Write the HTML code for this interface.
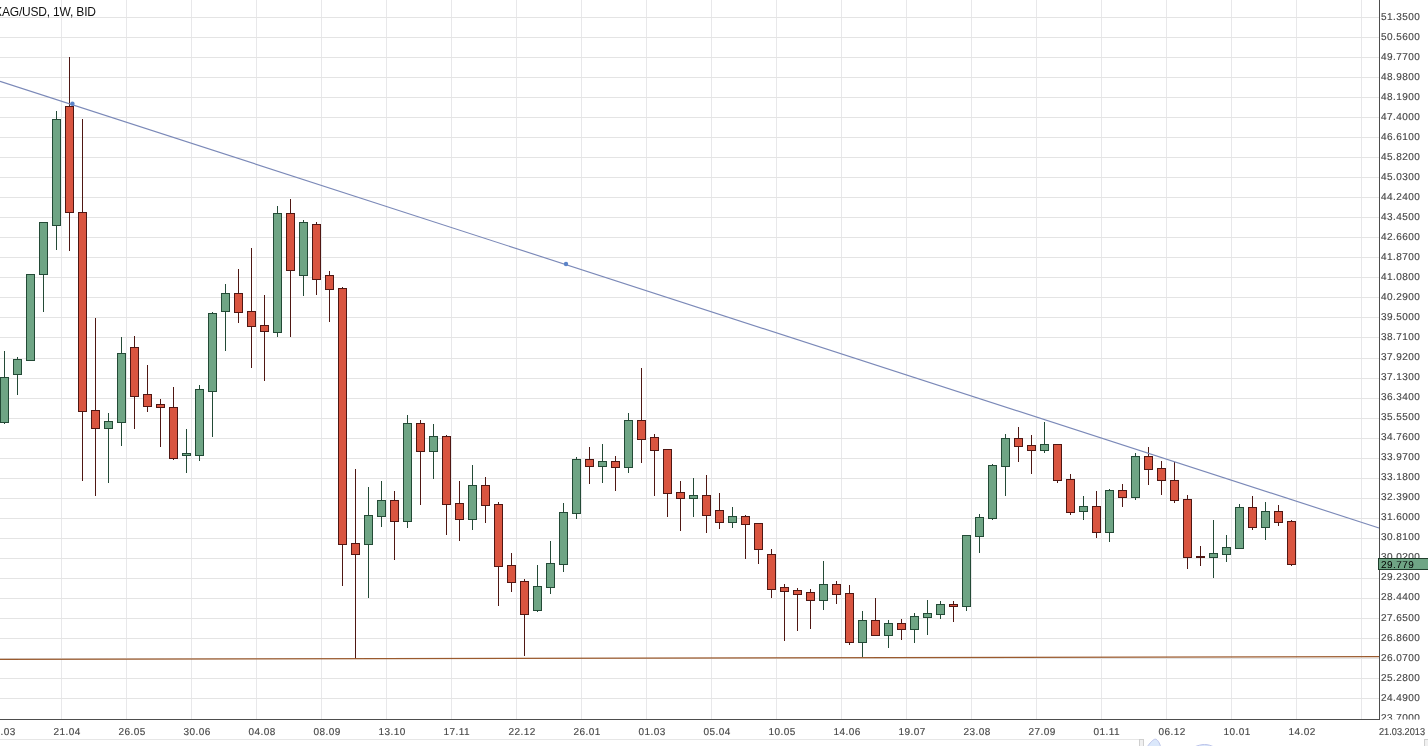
<!DOCTYPE html>
<html lang="en"><head><meta charset="utf-8"><title>XAG/USD, 1W, BID</title>
<style>html,body{margin:0;padding:0;background:#fff;overflow:hidden}svg{display:block}text{font-family:"Liberation Sans",Arial,Helvetica,sans-serif}.yl{font-size:10px;fill:#484848;stroke:#484848;stroke-width:0.15px;letter-spacing:0.44px;text-rendering:geometricPrecision}.xl{font-size:10px;fill:#484848;stroke:#484848;stroke-width:0.15px;letter-spacing:0.44px;text-rendering:geometricPrecision}.tt{font-size:12px;fill:#111}</style></head><body>
<svg width="1428" height="746" viewBox="0 0 1428 746">
<rect width="1428" height="746" fill="#fff"/>
<g stroke="#e4e4e4" stroke-width="1" shape-rendering="crispEdges">
<line x1="61.5" y1="0" x2="61.5" y2="719" stroke="#e8e8ea"/>
<line x1="126.5" y1="0" x2="126.5" y2="719" stroke="#e8e8ea"/>
<line x1="191.5" y1="0" x2="191.5" y2="719" stroke="#e8e8ea"/>
<line x1="256.5" y1="0" x2="256.5" y2="719" stroke="#e8e8ea"/>
<line x1="321.5" y1="0" x2="321.5" y2="719" stroke="#e8e8ea"/>
<line x1="386.5" y1="0" x2="386.5" y2="719" stroke="#e8e8ea"/>
<line x1="451.5" y1="0" x2="451.5" y2="719" stroke="#e8e8ea"/>
<line x1="516.5" y1="0" x2="516.5" y2="719" stroke="#e8e8ea"/>
<line x1="581.5" y1="0" x2="581.5" y2="719" stroke="#e8e8ea"/>
<line x1="646.5" y1="0" x2="646.5" y2="719" stroke="#e8e8ea"/>
<line x1="711.5" y1="0" x2="711.5" y2="719" stroke="#e8e8ea"/>
<line x1="776.5" y1="0" x2="776.5" y2="719" stroke="#e8e8ea"/>
<line x1="841.5" y1="0" x2="841.5" y2="719" stroke="#e8e8ea"/>
<line x1="906.5" y1="0" x2="906.5" y2="719" stroke="#e8e8ea"/>
<line x1="971.5" y1="0" x2="971.5" y2="719" stroke="#e8e8ea"/>
<line x1="1036.5" y1="0" x2="1036.5" y2="719" stroke="#e8e8ea"/>
<line x1="1101.5" y1="0" x2="1101.5" y2="719" stroke="#e8e8ea"/>
<line x1="1166.5" y1="0" x2="1166.5" y2="719" stroke="#e8e8ea"/>
<line x1="1231.5" y1="0" x2="1231.5" y2="719" stroke="#e8e8ea"/>
<line x1="1296.5" y1="0" x2="1296.5" y2="719" stroke="#e8e8ea"/>
<line x1="1361.5" y1="0" x2="1361.5" y2="719" stroke="#e8e8ea"/>
<line x1="0" y1="17.5" x2="1379" y2="17.5"/>
<line x1="0" y1="37.5" x2="1379" y2="37.5"/>
<line x1="0" y1="57.5" x2="1379" y2="57.5"/>
<line x1="0" y1="77.5" x2="1379" y2="77.5"/>
<line x1="0" y1="97.5" x2="1379" y2="97.5"/>
<line x1="0" y1="117.5" x2="1379" y2="117.5"/>
<line x1="0" y1="137.5" x2="1379" y2="137.5"/>
<line x1="0" y1="157.5" x2="1379" y2="157.5"/>
<line x1="0" y1="177.5" x2="1379" y2="177.5"/>
<line x1="0" y1="197.5" x2="1379" y2="197.5"/>
<line x1="0" y1="217.5" x2="1379" y2="217.5"/>
<line x1="0" y1="237.5" x2="1379" y2="237.5"/>
<line x1="0" y1="257.5" x2="1379" y2="257.5"/>
<line x1="0" y1="277.5" x2="1379" y2="277.5"/>
<line x1="0" y1="297.5" x2="1379" y2="297.5"/>
<line x1="0" y1="317.5" x2="1379" y2="317.5"/>
<line x1="0" y1="337.5" x2="1379" y2="337.5"/>
<line x1="0" y1="358.5" x2="1379" y2="358.5"/>
<line x1="0" y1="378.5" x2="1379" y2="378.5"/>
<line x1="0" y1="398.5" x2="1379" y2="398.5"/>
<line x1="0" y1="418.5" x2="1379" y2="418.5"/>
<line x1="0" y1="438.5" x2="1379" y2="438.5"/>
<line x1="0" y1="458.5" x2="1379" y2="458.5"/>
<line x1="0" y1="478.5" x2="1379" y2="478.5"/>
<line x1="0" y1="498.5" x2="1379" y2="498.5"/>
<line x1="0" y1="518.5" x2="1379" y2="518.5"/>
<line x1="0" y1="538.5" x2="1379" y2="538.5"/>
<line x1="0" y1="558.5" x2="1379" y2="558.5"/>
<line x1="0" y1="578.5" x2="1379" y2="578.5"/>
<line x1="0" y1="598.5" x2="1379" y2="598.5"/>
<line x1="0" y1="618.5" x2="1379" y2="618.5"/>
<line x1="0" y1="638.5" x2="1379" y2="638.5"/>
<line x1="0" y1="658.5" x2="1379" y2="658.5"/>
<line x1="0" y1="678.5" x2="1379" y2="678.5"/>
<line x1="0" y1="698.5" x2="1379" y2="698.5"/>
</g>
<text class="tt" x="-5.9" y="16" textLength="101.9" lengthAdjust="spacing">XAG/USD, 1W, BID</text>
<g shape-rendering="crispEdges" stroke-width="1">
<line x1="4.5" y1="351" x2="4.5" y2="424" stroke="#234a36"/>
<rect x="0.5" y="377.5" width="8" height="45" fill="#6fa585" stroke="#234a36"/>
<line x1="17.5" y1="357" x2="17.5" y2="395" stroke="#234a36"/>
<rect x="13.5" y="359.5" width="8" height="15" fill="#6fa585" stroke="#234a36"/>
<line x1="30.5" y1="274" x2="30.5" y2="361" stroke="#234a36"/>
<rect x="26.5" y="274.5" width="8" height="86" fill="#6fa585" stroke="#234a36"/>
<line x1="43.5" y1="222" x2="43.5" y2="312" stroke="#234a36"/>
<rect x="39.5" y="222.5" width="8" height="52" fill="#6fa585" stroke="#234a36"/>
<line x1="56.5" y1="111" x2="56.5" y2="250" stroke="#234a36"/>
<rect x="52.5" y="119.5" width="8" height="106" fill="#6fa585" stroke="#234a36"/>
<line x1="69.5" y1="57" x2="69.5" y2="251" stroke="#4f1713"/>
<rect x="65.5" y="106.5" width="8" height="106" fill="#d95540" stroke="#4f1713"/>
<line x1="82.5" y1="119" x2="82.5" y2="481" stroke="#4f1713"/>
<rect x="78.5" y="212.5" width="8" height="199" fill="#d95540" stroke="#4f1713"/>
<line x1="95.5" y1="318" x2="95.5" y2="496" stroke="#4f1713"/>
<rect x="91.5" y="410.5" width="8" height="18" fill="#d95540" stroke="#4f1713"/>
<line x1="108.5" y1="413" x2="108.5" y2="483" stroke="#234a36"/>
<rect x="104.5" y="421.5" width="8" height="7" fill="#6fa585" stroke="#234a36"/>
<line x1="121.5" y1="337" x2="121.5" y2="446" stroke="#234a36"/>
<rect x="117.5" y="353.5" width="8" height="69" fill="#6fa585" stroke="#234a36"/>
<line x1="134.5" y1="336" x2="134.5" y2="429" stroke="#4f1713"/>
<rect x="130.5" y="347.5" width="8" height="49" fill="#d95540" stroke="#4f1713"/>
<line x1="147.5" y1="365" x2="147.5" y2="412" stroke="#4f1713"/>
<rect x="143.5" y="394.5" width="8" height="12" fill="#d95540" stroke="#4f1713"/>
<line x1="160.5" y1="399" x2="160.5" y2="447" stroke="#4f1713"/>
<rect x="156.5" y="404.5" width="8" height="3" fill="#d95540" stroke="#4f1713"/>
<line x1="173.5" y1="387" x2="173.5" y2="460" stroke="#4f1713"/>
<rect x="169.5" y="407.5" width="8" height="51" fill="#d95540" stroke="#4f1713"/>
<line x1="186.5" y1="429" x2="186.5" y2="473" stroke="#234a36"/>
<rect x="182.5" y="453.5" width="8" height="2" fill="#6fa585" stroke="#234a36"/>
<line x1="199.5" y1="385" x2="199.5" y2="461" stroke="#234a36"/>
<rect x="195.5" y="389.5" width="8" height="66" fill="#6fa585" stroke="#234a36"/>
<line x1="212.5" y1="312" x2="212.5" y2="437" stroke="#234a36"/>
<rect x="208.5" y="313.5" width="8" height="78" fill="#6fa585" stroke="#234a36"/>
<line x1="225.5" y1="284" x2="225.5" y2="351" stroke="#234a36"/>
<rect x="221.5" y="293.5" width="8" height="18" fill="#6fa585" stroke="#234a36"/>
<line x1="238.5" y1="269" x2="238.5" y2="323" stroke="#4f1713"/>
<rect x="234.5" y="293.5" width="8" height="19" fill="#d95540" stroke="#4f1713"/>
<line x1="251.5" y1="248" x2="251.5" y2="368" stroke="#4f1713"/>
<rect x="247.5" y="311.5" width="8" height="15" fill="#d95540" stroke="#4f1713"/>
<line x1="264.5" y1="295" x2="264.5" y2="381" stroke="#4f1713"/>
<rect x="260.5" y="325.5" width="8" height="6" fill="#d95540" stroke="#4f1713"/>
<line x1="277.5" y1="206" x2="277.5" y2="337" stroke="#234a36"/>
<rect x="273.5" y="213.5" width="8" height="119" fill="#6fa585" stroke="#234a36"/>
<line x1="290.5" y1="199" x2="290.5" y2="337" stroke="#4f1713"/>
<rect x="286.5" y="213.5" width="8" height="57" fill="#d95540" stroke="#4f1713"/>
<line x1="303.5" y1="220" x2="303.5" y2="296" stroke="#234a36"/>
<rect x="299.5" y="222.5" width="8" height="53" fill="#6fa585" stroke="#234a36"/>
<line x1="316.5" y1="222" x2="316.5" y2="295" stroke="#4f1713"/>
<rect x="312.5" y="224.5" width="8" height="55" fill="#d95540" stroke="#4f1713"/>
<line x1="329.5" y1="271" x2="329.5" y2="322" stroke="#4f1713"/>
<rect x="325.5" y="275.5" width="8" height="14" fill="#d95540" stroke="#4f1713"/>
<line x1="342.5" y1="287" x2="342.5" y2="586" stroke="#4f1713"/>
<rect x="338.5" y="288.5" width="8" height="256" fill="#d95540" stroke="#4f1713"/>
<line x1="355.5" y1="469" x2="355.5" y2="659" stroke="#4f1713"/>
<rect x="351.5" y="543.5" width="8" height="11" fill="#d95540" stroke="#4f1713"/>
<line x1="368.5" y1="487" x2="368.5" y2="598" stroke="#234a36"/>
<rect x="364.5" y="515.5" width="8" height="29" fill="#6fa585" stroke="#234a36"/>
<line x1="381.5" y1="481" x2="381.5" y2="527" stroke="#234a36"/>
<rect x="377.5" y="500.5" width="8" height="16" fill="#6fa585" stroke="#234a36"/>
<line x1="394.5" y1="491" x2="394.5" y2="560" stroke="#4f1713"/>
<rect x="390.5" y="500.5" width="8" height="21" fill="#d95540" stroke="#4f1713"/>
<line x1="407.5" y1="415" x2="407.5" y2="528" stroke="#234a36"/>
<rect x="403.5" y="423.5" width="8" height="98" fill="#6fa585" stroke="#234a36"/>
<line x1="420.5" y1="420" x2="420.5" y2="505" stroke="#4f1713"/>
<rect x="416.5" y="423.5" width="8" height="28" fill="#d95540" stroke="#4f1713"/>
<line x1="433.5" y1="424" x2="433.5" y2="479" stroke="#234a36"/>
<rect x="429.5" y="436.5" width="8" height="15" fill="#6fa585" stroke="#234a36"/>
<line x1="446.5" y1="435" x2="446.5" y2="535" stroke="#4f1713"/>
<rect x="442.5" y="436.5" width="8" height="68" fill="#d95540" stroke="#4f1713"/>
<line x1="459.5" y1="481" x2="459.5" y2="541" stroke="#4f1713"/>
<rect x="455.5" y="503.5" width="8" height="16" fill="#d95540" stroke="#4f1713"/>
<line x1="472.5" y1="465" x2="472.5" y2="530" stroke="#234a36"/>
<rect x="468.5" y="485.5" width="8" height="34" fill="#6fa585" stroke="#234a36"/>
<line x1="485.5" y1="477" x2="485.5" y2="523" stroke="#4f1713"/>
<rect x="481.5" y="485.5" width="8" height="20" fill="#d95540" stroke="#4f1713"/>
<line x1="498.5" y1="502" x2="498.5" y2="606" stroke="#4f1713"/>
<rect x="494.5" y="504.5" width="8" height="62" fill="#d95540" stroke="#4f1713"/>
<line x1="511.5" y1="553" x2="511.5" y2="592" stroke="#4f1713"/>
<rect x="507.5" y="565.5" width="8" height="17" fill="#d95540" stroke="#4f1713"/>
<line x1="524.5" y1="579" x2="524.5" y2="656" stroke="#4f1713"/>
<rect x="520.5" y="581.5" width="8" height="33" fill="#d95540" stroke="#4f1713"/>
<line x1="537.5" y1="565" x2="537.5" y2="612" stroke="#234a36"/>
<rect x="533.5" y="586.5" width="8" height="24" fill="#6fa585" stroke="#234a36"/>
<line x1="550.5" y1="541" x2="550.5" y2="594" stroke="#234a36"/>
<rect x="546.5" y="563.5" width="8" height="24" fill="#6fa585" stroke="#234a36"/>
<line x1="563.5" y1="503" x2="563.5" y2="572" stroke="#234a36"/>
<rect x="559.5" y="512.5" width="8" height="52" fill="#6fa585" stroke="#234a36"/>
<line x1="576.5" y1="457" x2="576.5" y2="519" stroke="#234a36"/>
<rect x="572.5" y="459.5" width="8" height="54" fill="#6fa585" stroke="#234a36"/>
<line x1="589.5" y1="447" x2="589.5" y2="484" stroke="#4f1713"/>
<rect x="585.5" y="459.5" width="8" height="7" fill="#d95540" stroke="#4f1713"/>
<line x1="602.5" y1="444" x2="602.5" y2="483" stroke="#234a36"/>
<rect x="598.5" y="461.5" width="8" height="5" fill="#6fa585" stroke="#234a36"/>
<line x1="615.5" y1="456" x2="615.5" y2="491" stroke="#4f1713"/>
<rect x="611.5" y="461.5" width="8" height="6" fill="#d95540" stroke="#4f1713"/>
<line x1="628.5" y1="413" x2="628.5" y2="473" stroke="#234a36"/>
<rect x="624.5" y="420.5" width="8" height="47" fill="#6fa585" stroke="#234a36"/>
<line x1="641.5" y1="368" x2="641.5" y2="463" stroke="#4f1713"/>
<rect x="637.5" y="420.5" width="8" height="19" fill="#d95540" stroke="#4f1713"/>
<line x1="654.5" y1="434" x2="654.5" y2="496" stroke="#4f1713"/>
<rect x="650.5" y="437.5" width="8" height="13" fill="#d95540" stroke="#4f1713"/>
<line x1="667.5" y1="449" x2="667.5" y2="517" stroke="#4f1713"/>
<rect x="663.5" y="449.5" width="8" height="44" fill="#d95540" stroke="#4f1713"/>
<line x1="680.5" y1="481" x2="680.5" y2="531" stroke="#4f1713"/>
<rect x="676.5" y="492.5" width="8" height="6" fill="#d95540" stroke="#4f1713"/>
<line x1="693.5" y1="478" x2="693.5" y2="517" stroke="#234a36"/>
<rect x="689.5" y="495.5" width="8" height="3" fill="#6fa585" stroke="#234a36"/>
<line x1="706.5" y1="475" x2="706.5" y2="533" stroke="#4f1713"/>
<rect x="702.5" y="495.5" width="8" height="20" fill="#d95540" stroke="#4f1713"/>
<line x1="719.5" y1="493" x2="719.5" y2="529" stroke="#4f1713"/>
<rect x="715.5" y="510.5" width="8" height="12" fill="#d95540" stroke="#4f1713"/>
<line x1="732.5" y1="507" x2="732.5" y2="528" stroke="#234a36"/>
<rect x="728.5" y="516.5" width="8" height="6" fill="#6fa585" stroke="#234a36"/>
<line x1="745.5" y1="515" x2="745.5" y2="559" stroke="#4f1713"/>
<rect x="741.5" y="516.5" width="8" height="8" fill="#d95540" stroke="#4f1713"/>
<line x1="758.5" y1="523" x2="758.5" y2="564" stroke="#4f1713"/>
<rect x="754.5" y="523.5" width="8" height="26" fill="#d95540" stroke="#4f1713"/>
<line x1="771.5" y1="549" x2="771.5" y2="598" stroke="#4f1713"/>
<rect x="767.5" y="554.5" width="8" height="35" fill="#d95540" stroke="#4f1713"/>
<line x1="784.5" y1="584" x2="784.5" y2="641" stroke="#4f1713"/>
<rect x="780.5" y="587.5" width="8" height="4" fill="#d95540" stroke="#4f1713"/>
<line x1="797.5" y1="588" x2="797.5" y2="631" stroke="#4f1713"/>
<rect x="793.5" y="590.5" width="8" height="4" fill="#d95540" stroke="#4f1713"/>
<line x1="810.5" y1="589" x2="810.5" y2="629" stroke="#4f1713"/>
<rect x="806.5" y="592.5" width="8" height="8" fill="#d95540" stroke="#4f1713"/>
<line x1="823.5" y1="561" x2="823.5" y2="610" stroke="#234a36"/>
<rect x="819.5" y="584.5" width="8" height="16" fill="#6fa585" stroke="#234a36"/>
<line x1="836.5" y1="581" x2="836.5" y2="604" stroke="#4f1713"/>
<rect x="832.5" y="584.5" width="8" height="10" fill="#d95540" stroke="#4f1713"/>
<line x1="849.5" y1="585" x2="849.5" y2="645" stroke="#4f1713"/>
<rect x="845.5" y="593.5" width="8" height="49" fill="#d95540" stroke="#4f1713"/>
<line x1="862.5" y1="611" x2="862.5" y2="657" stroke="#234a36"/>
<rect x="858.5" y="620.5" width="8" height="22" fill="#6fa585" stroke="#234a36"/>
<line x1="875.5" y1="598" x2="875.5" y2="636" stroke="#4f1713"/>
<rect x="871.5" y="620.5" width="8" height="15" fill="#d95540" stroke="#4f1713"/>
<line x1="888.5" y1="620" x2="888.5" y2="648" stroke="#234a36"/>
<rect x="884.5" y="623.5" width="8" height="12" fill="#6fa585" stroke="#234a36"/>
<line x1="901.5" y1="619" x2="901.5" y2="640" stroke="#4f1713"/>
<rect x="897.5" y="623.5" width="8" height="6" fill="#d95540" stroke="#4f1713"/>
<line x1="914.5" y1="613" x2="914.5" y2="643" stroke="#234a36"/>
<rect x="910.5" y="616.5" width="8" height="13" fill="#6fa585" stroke="#234a36"/>
<line x1="927.5" y1="600" x2="927.5" y2="635" stroke="#234a36"/>
<rect x="923.5" y="613.5" width="8" height="4" fill="#6fa585" stroke="#234a36"/>
<line x1="940.5" y1="601" x2="940.5" y2="619" stroke="#234a36"/>
<rect x="936.5" y="604.5" width="8" height="10" fill="#6fa585" stroke="#234a36"/>
<line x1="953.5" y1="601" x2="953.5" y2="622" stroke="#4f1713"/>
<rect x="949.5" y="604.5" width="8" height="2" fill="#d95540" stroke="#4f1713"/>
<line x1="966.5" y1="535" x2="966.5" y2="611" stroke="#234a36"/>
<rect x="962.5" y="535.5" width="8" height="71" fill="#6fa585" stroke="#234a36"/>
<line x1="979.5" y1="514" x2="979.5" y2="553" stroke="#234a36"/>
<rect x="975.5" y="517.5" width="8" height="19" fill="#6fa585" stroke="#234a36"/>
<line x1="992.5" y1="464" x2="992.5" y2="520" stroke="#234a36"/>
<rect x="988.5" y="465.5" width="8" height="53" fill="#6fa585" stroke="#234a36"/>
<line x1="1005.5" y1="434" x2="1005.5" y2="496" stroke="#234a36"/>
<rect x="1001.5" y="438.5" width="8" height="28" fill="#6fa585" stroke="#234a36"/>
<line x1="1018.5" y1="427" x2="1018.5" y2="462" stroke="#4f1713"/>
<rect x="1014.5" y="438.5" width="8" height="8" fill="#d95540" stroke="#4f1713"/>
<line x1="1031.5" y1="435" x2="1031.5" y2="474" stroke="#4f1713"/>
<rect x="1027.5" y="445.5" width="8" height="5" fill="#d95540" stroke="#4f1713"/>
<line x1="1044.5" y1="422" x2="1044.5" y2="453" stroke="#234a36"/>
<rect x="1040.5" y="444.5" width="8" height="6" fill="#6fa585" stroke="#234a36"/>
<line x1="1057.5" y1="444" x2="1057.5" y2="483" stroke="#4f1713"/>
<rect x="1053.5" y="444.5" width="8" height="36" fill="#d95540" stroke="#4f1713"/>
<line x1="1070.5" y1="474" x2="1070.5" y2="515" stroke="#4f1713"/>
<rect x="1066.5" y="479.5" width="8" height="33" fill="#d95540" stroke="#4f1713"/>
<line x1="1083.5" y1="496" x2="1083.5" y2="520" stroke="#234a36"/>
<rect x="1079.5" y="506.5" width="8" height="5" fill="#6fa585" stroke="#234a36"/>
<line x1="1096.5" y1="491" x2="1096.5" y2="538" stroke="#4f1713"/>
<rect x="1092.5" y="506.5" width="8" height="26" fill="#d95540" stroke="#4f1713"/>
<line x1="1109.5" y1="489" x2="1109.5" y2="542" stroke="#234a36"/>
<rect x="1105.5" y="490.5" width="8" height="42" fill="#6fa585" stroke="#234a36"/>
<line x1="1122.5" y1="484" x2="1122.5" y2="507" stroke="#4f1713"/>
<rect x="1118.5" y="490.5" width="8" height="7" fill="#d95540" stroke="#4f1713"/>
<line x1="1135.5" y1="453" x2="1135.5" y2="500" stroke="#234a36"/>
<rect x="1131.5" y="456.5" width="8" height="41" fill="#6fa585" stroke="#234a36"/>
<line x1="1148.5" y1="447" x2="1148.5" y2="485" stroke="#4f1713"/>
<rect x="1144.5" y="456.5" width="8" height="13" fill="#d95540" stroke="#4f1713"/>
<line x1="1161.5" y1="461" x2="1161.5" y2="495" stroke="#4f1713"/>
<rect x="1157.5" y="468.5" width="8" height="12" fill="#d95540" stroke="#4f1713"/>
<line x1="1174.5" y1="462" x2="1174.5" y2="503" stroke="#4f1713"/>
<rect x="1170.5" y="480.5" width="8" height="20" fill="#d95540" stroke="#4f1713"/>
<line x1="1187.5" y1="495" x2="1187.5" y2="569" stroke="#4f1713"/>
<rect x="1183.5" y="499.5" width="8" height="58" fill="#d95540" stroke="#4f1713"/>
<line x1="1200.5" y1="546" x2="1200.5" y2="566" stroke="#4f1713"/>
<rect x="1196.5" y="556.5" width="8" height="1" fill="#d95540" stroke="#4f1713"/>
<line x1="1213.5" y1="520" x2="1213.5" y2="578" stroke="#234a36"/>
<rect x="1209.5" y="553.5" width="8" height="4" fill="#6fa585" stroke="#234a36"/>
<line x1="1226.5" y1="535" x2="1226.5" y2="562" stroke="#234a36"/>
<rect x="1222.5" y="547.5" width="8" height="7" fill="#6fa585" stroke="#234a36"/>
<line x1="1239.5" y1="504" x2="1239.5" y2="549" stroke="#234a36"/>
<rect x="1235.5" y="507.5" width="8" height="41" fill="#6fa585" stroke="#234a36"/>
<line x1="1252.5" y1="496" x2="1252.5" y2="530" stroke="#4f1713"/>
<rect x="1248.5" y="507.5" width="8" height="20" fill="#d95540" stroke="#4f1713"/>
<line x1="1265.5" y1="502" x2="1265.5" y2="540" stroke="#234a36"/>
<rect x="1261.5" y="511.5" width="8" height="16" fill="#6fa585" stroke="#234a36"/>
<line x1="1278.5" y1="505" x2="1278.5" y2="526" stroke="#4f1713"/>
<rect x="1274.5" y="511.5" width="8" height="11" fill="#d95540" stroke="#4f1713"/>
<line x1="1291.5" y1="520" x2="1291.5" y2="566" stroke="#4f1713"/>
<rect x="1287.5" y="521.5" width="8" height="43" fill="#d95540" stroke="#4f1713"/>
</g>
<line x1="0" y1="81.3" x2="1379" y2="528" stroke="#7b89b8" stroke-width="1.15"/>
<circle cx="72.4" cy="103.8" r="2.2" fill="#5c84c8"/>
<circle cx="566" cy="264" r="2.2" fill="#5c84c8"/>
<line x1="0" y1="659.4" x2="1379" y2="656.6" stroke="#9a5a2e" stroke-width="1.3"/>
<g stroke="#4d4d4d" stroke-width="1" shape-rendering="crispEdges">
<line x1="1379.5" y1="0" x2="1379.5" y2="720"/>
<line x1="0" y1="719.5" x2="1380" y2="719.5"/>
</g>
<clipPath id="yc"><rect x="1380" y="0" width="48" height="719.5"/></clipPath>
<g clip-path="url(#yc)">
<text class="yl" x="1381" y="20">51.3500</text>
<text class="yl" x="1381" y="40">50.5600</text>
<text class="yl" x="1381" y="60">49.7700</text>
<text class="yl" x="1381" y="80">48.9800</text>
<text class="yl" x="1381" y="100">48.1900</text>
<text class="yl" x="1381" y="120">47.4000</text>
<text class="yl" x="1381" y="140">46.6100</text>
<text class="yl" x="1381" y="160">45.8200</text>
<text class="yl" x="1381" y="180">45.0300</text>
<text class="yl" x="1381" y="200">44.2400</text>
<text class="yl" x="1381" y="220">43.4500</text>
<text class="yl" x="1381" y="240">42.6600</text>
<text class="yl" x="1381" y="260">41.8700</text>
<text class="yl" x="1381" y="280">41.0800</text>
<text class="yl" x="1381" y="300">40.2900</text>
<text class="yl" x="1381" y="320">39.5000</text>
<text class="yl" x="1381" y="340">38.7100</text>
<text class="yl" x="1381" y="360">37.9200</text>
<text class="yl" x="1381" y="380">37.1300</text>
<text class="yl" x="1381" y="400">36.3400</text>
<text class="yl" x="1381" y="420">35.5500</text>
<text class="yl" x="1381" y="440">34.7600</text>
<text class="yl" x="1381" y="460">33.9700</text>
<text class="yl" x="1381" y="480">33.1800</text>
<text class="yl" x="1381" y="500">32.3900</text>
<text class="yl" x="1381" y="520">31.6000</text>
<text class="yl" x="1381" y="540">30.8100</text>
<text class="yl" x="1381" y="560">30.0200</text>
<text class="yl" x="1381" y="580">29.2300</text>
<text class="yl" x="1381" y="600">28.4400</text>
<text class="yl" x="1381" y="621">27.6500</text>
<text class="yl" x="1381" y="641">26.8600</text>
<text class="yl" x="1381" y="661">26.0700</text>
<text class="yl" x="1381" y="681">25.2800</text>
<text class="yl" x="1381" y="701">24.4900</text>
<text class="yl" x="1381" y="721">23.7000</text>
</g>
<rect x="1378.5" y="558.5" width="51" height="11" fill="#6fa585" stroke="#1f3d2b" stroke-width="1" shape-rendering="crispEdges"/>
<text x="1381" y="568" style="font-size:10px;fill:#000;letter-spacing:0.44px;text-rendering:geometricPrecision">29.779</text>
<text class="xl" x="-11.5" y="735">17.03</text>
<text class="xl" x="53.5" y="735">21.04</text>
<text class="xl" x="118.5" y="735">26.05</text>
<text class="xl" x="183.5" y="735">30.06</text>
<text class="xl" x="248.5" y="735">04.08</text>
<text class="xl" x="313.5" y="735">08.09</text>
<text class="xl" x="378.5" y="735">13.10</text>
<text class="xl" x="443.5" y="735">17.11</text>
<text class="xl" x="508.5" y="735">22.12</text>
<text class="xl" x="573.5" y="735">26.01</text>
<text class="xl" x="638.5" y="735">01.03</text>
<text class="xl" x="703.5" y="735">05.04</text>
<text class="xl" x="768.5" y="735">10.05</text>
<text class="xl" x="833.5" y="735">14.06</text>
<text class="xl" x="898.5" y="735">19.07</text>
<text class="xl" x="963.5" y="735">23.08</text>
<text class="xl" x="1028.5" y="735">27.09</text>
<text class="xl" x="1093.5" y="735">01.11</text>
<text class="xl" x="1158.5" y="735">06.12</text>
<text class="xl" x="1223.5" y="735">10.01</text>
<text class="xl" x="1288.5" y="735">14.02</text>
<text class="xl" x="1379" y="735" textLength="46" lengthAdjust="spacingAndGlyphs" style="letter-spacing:0">21.03.2013</text>
<g shape-rendering="crispEdges">
<line x1="0" y1="739.5" x2="1139" y2="739.5" stroke="#e6e6e6"/>
<rect x="1139.5" y="739.5" width="4" height="8" fill="#f0f0f0" stroke="#cfcfcf"/>
<rect x="1424.5" y="739.5" width="6" height="8" fill="#f0f0f0" stroke="#cfcfcf"/>
</g>
<path d="M1147 747 C1150 743 1153 739.2 1155.3 739.2 C1157.6 739.2 1159.5 743 1160.8 747 Z" fill="#dbe8fb" stroke="#bcc3ea" stroke-width="1"/>
<path d="M1194 747 C1198 745.5 1201 744.5 1204.500 744.5 C1208 744.5 1211 745.5 1214 747 Z" fill="#dbe8fb" stroke="#bcc3ea" stroke-width="1"/>
</svg></body></html>
